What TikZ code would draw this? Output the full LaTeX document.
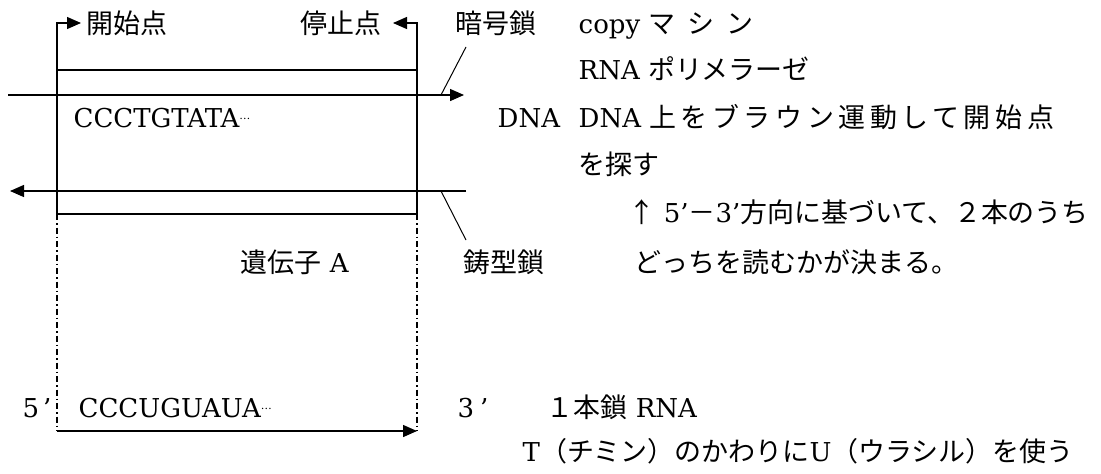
\documentclass[tikz,border=0pt]{standalone}
\usepackage{fontspec}
\setmainfont{DejaVu Serif}
\newfontfamily\cjk[Scale=1.037]{Noto Sans CJK JP}
\usetikzlibrary{arrows.meta}
\newcommand{\seqdots}{\raisebox{0.3em}{\fontsize{11}{11}\selectfont\ldots}}
\newcommand{\ls}[1]{\addfontfeature{LetterSpace=#1}}
\begin{document}
\begin{tikzpicture}[x=1pt,y=-1pt,line width=1.4pt,
  txt/.style={anchor=base west,inner sep=0pt,font=\fontsize{26}{30}\selectfont},
  tip/.style={-{Triangle[length=14pt,width=12pt]}},
  dashdot/.style={line width=1.4pt,dash pattern=on 6pt off 3pt on 1.5pt off 3pt}]
\useasboundingbox (0,0) rectangle (1101,474);
% coordinates
\coordinate (Lbot) at (57,214);
\coordinate (Ltop) at (57,23);
\coordinate (Ltip) at (81,23);
\coordinate (Rbot) at (417,214);
\coordinate (Rtop) at (417,23);
\coordinate (Rtip) at (393,23);
\coordinate (TopL) at (57,70);
\coordinate (TopR) at (417,70);
\coordinate (S1) at (8,95);
\coordinate (S1e) at (464,95);
\coordinate (S2) at (466,191);
\coordinate (S2e) at (10,191);
\coordinate (Sl1) at (441,95);
\coordinate (Sl2) at (466,47);
\coordinate (Bs1) at (441,191);
\coordinate (Bs2) at (466,240);
\coordinate (Ldash) at (57,431);
\coordinate (Rdash) at (417,431);
% box and markers
\draw[tip] (Lbot) -- (Ltop) -- (Ltip);
\draw[tip] (Rbot) -- (Rtop) -- (Rtip);
\draw (TopL) -- (TopR);
\draw (Lbot) -- (Rbot);
\draw[tip] (S1) -- (S1e);
\draw[tip] (S2) -- (S2e);
\draw[line width=1pt] (Sl1) -- (Sl2);
\draw[line width=1pt] (Bs1) -- (Bs2);
\draw[dashdot] (Lbot) -- (Ldash);
\draw[dashdot] (Rbot) -- (Rdash);
\draw[tip] (Ldash) -- (Rdash);
% texts (baseline = row centre + 10)
\node[txt] (start) at (86,33) {\cjk 開始点};
\node[txt,anchor=base east] (stop) at (382,33) {\cjk 停止点};
\node[txt] (ango) at (455,33) {\cjk 暗号鎖};
\node[txt] (copy) at (578,33) {copy {\cjk\ls{45}マシン}};
\node[txt] (rnap) at (578,79) {RNA {\cjk ポリメラーゼ}};
\node[txt] (seq1) at (73,127) {CCCTGTATA\seqdots};
\node[txt] (dna) at (497,127) {DNA};
\node[txt] (brown) at (578,127) {DNA {\cjk\ls{17}上をブラウン運動して開始点}};
\node[txt] (sagasu) at (578,174) {\cjk を探す};
\node[txt] (houkou) at (628,222) {{\cjk ↑} 5’{\cjk －}3’{\cjk 方向に基づいて、２本のうち}};
\node[txt] (gene) at (240,272) {{\cjk 遺伝子} A};
\node[txt] (igata) at (463,272) {\cjk 鋳型鎖};
\node[txt] (docchi) at (634,272) {\cjk どっちを読むかが決まる。};
\node[txt] (five) at (22,417) {5\hspace{4pt}’};
\node[txt] (seq2) at (78,417) {CCCUGUAUA\seqdots};
\node[txt] (three) at (457,417) {3\hspace{6pt}’};
\node[txt] (single) at (546,417) {{\cjk １本鎖} RNA};
\node[txt] (uracil) at (522,461) {T{\cjk （チミン）のかわりに}U{\cjk （ウラシル）を使う}};
\end{tikzpicture}
\end{document}
